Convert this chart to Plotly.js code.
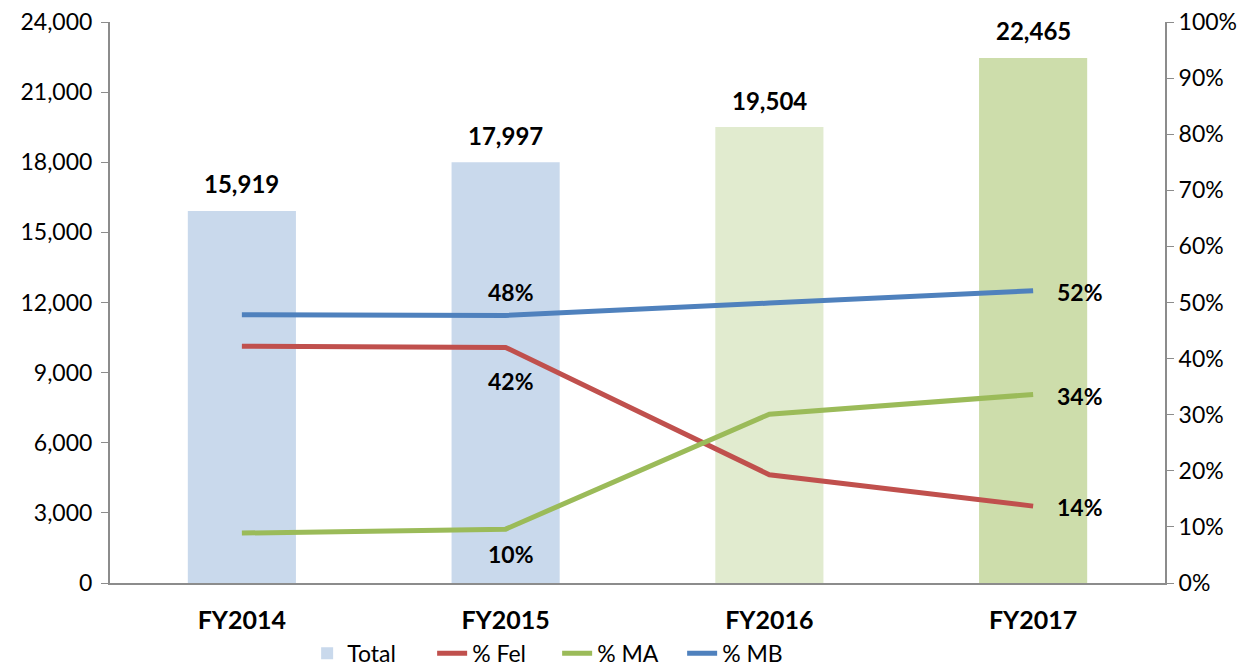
<!DOCTYPE html>
<html>
<head>
<meta charset="utf-8">
<script src="https://cdn.plot.ly/plotly-3.0.1.min.js"></script>
<style>html,body{margin:0;padding:0;background:#fff;}#chart{width:1252px;height:672px;}</style>
</head>
<body>
<div id="chart"></div>
<script>
const categories = ['FY2014', 'FY2015', 'FY2016', 'FY2017'];
const totals = [15919, 17997, 19504, 22465];
const barColors = ['#C9D9EC', '#C9D9EC', '#E1EBCF', '#CDDDAB'];
const pctFel = [0.422, 0.420, 0.193, 0.137];
const pctMA = [0.089, 0.096, 0.301, 0.336];
const pctMB = [0.478, 0.477, 0.499, 0.521];
const yTicks = [0, 3000, 6000, 9000, 12000, 15000, 18000, 21000, 24000];
const y2Ticks = [0, 0.1, 0.2, 0.3, 0.4, 0.5, 0.6, 0.7, 0.8, 0.9, 1.0];

const FONT = 'Lato, "Open Sans", sans-serif';

const traces = [
  {type: 'bar', name: 'Total', x: categories, y: totals,
   marker: {color: barColors}, width: 0.41, hoverinfo: 'y'},
  {type: 'scatter', mode: 'lines', name: '% Fel', x: categories, y: pctFel, yaxis: 'y2',
   line: {color: '#C0504D', width: 5}},
  {type: 'scatter', mode: 'lines', name: '% MA', x: categories, y: pctMA, yaxis: 'y2',
   line: {color: '#9BBB59', width: 5}},
  {type: 'scatter', mode: 'lines', name: '% MB', x: categories, y: pctMB, yaxis: 'y2',
   line: {color: '#4F81BD', width: 5}}
];

const pct = v => Math.round(v * 100) + '%';
const annFont = {family: FONT, size: 23, color: '#000'};
const annotations = [];
totals.forEach((v, i) => {
  annotations.push({x: categories[i], y: v, xref: 'x', yref: 'y', text: '<b>' + v.toLocaleString('en-US') + '</b>',
    showarrow: false, yshift: 27, font: {family: FONT, size: 24, color: '#000'}});
});
// FY2015 labels
annotations.push({x: categories[1], y: pctMB[1], xref: 'x', yref: 'y2', text: '<b>' + pct(pctMB[1]) + '</b>', showarrow: false, yshift: 23, xshift: 5, font: annFont});
annotations.push({x: categories[1], y: pctFel[1], xref: 'x', yref: 'y2', text: '<b>' + pct(pctFel[1]) + '</b>', showarrow: false, yshift: -34, xshift: 5, font: annFont});
annotations.push({x: categories[1], y: pctMA[1], xref: 'x', yref: 'y2', text: '<b>' + pct(pctMA[1]) + '</b>', showarrow: false, yshift: -25, xshift: 5, font: annFont});
// FY2017 labels
[pctMB, pctMA, pctFel].forEach(arr => {
  annotations.push({x: categories[3], y: arr[3], xref: 'x', yref: 'y2', text: '<b>' + pct(arr[3]) + '</b>', showarrow: false, xanchor: 'left', xshift: 22, yshift: -1, font: annFont});
});

const layout = {
  width: 1252, height: 672,
  margin: {l: 110, r: 87, t: 22, b: 89, autoexpand: false},
  paper_bgcolor: '#fff', plot_bgcolor: '#fff',
  font: {family: FONT, size: 22, color: '#000'},
  showlegend: true,
  legend: {orientation: 'h', x: 0.445, xanchor: 'center', xref: 'container', y: 0.028, yanchor: 'middle', yref: 'container',
    font: {family: FONT, size: 23, color: '#000'}, traceorder: 'normal', entrywidth: 80},
  xaxis: {type: 'category', tickfont: {family: FONT, size: 25, weight: 'bold'}, automargin: false,
    showline: true, linecolor: '#8C8C8C', linewidth: 2, ticks: '', showgrid: false, zeroline: false,
    ticklabelstandoff: 14, fixedrange: true},
  yaxis: {range: [0, 24000], tickvals: yTicks, tickformat: ',d', showgrid: false, zeroline: false, automargin: false,
    showline: true, linecolor: '#8C8C8C', linewidth: 2, ticks: 'outside', ticklen: 7, tickcolor: '#8C8C8C',
    tickfont: {family: FONT, size: 23}, ticklabelstandoff: 4},
  yaxis2: {overlaying: 'y', side: 'right', range: [0, 1], tickvals: y2Ticks, tickformat: '.0%', automargin: false,
    showgrid: false, zeroline: false, showline: true, linecolor: '#8C8C8C', linewidth: 2,
    ticks: 'outside', ticklen: 7, tickcolor: '#8C8C8C', tickfont: {family: FONT, size: 23}},
  bargap: 0.59,
  annotations: annotations
};

Plotly.newPlot('chart', traces, layout, {displayModeBar: false, staticPlot: true});
</script>
</body>
</html>
